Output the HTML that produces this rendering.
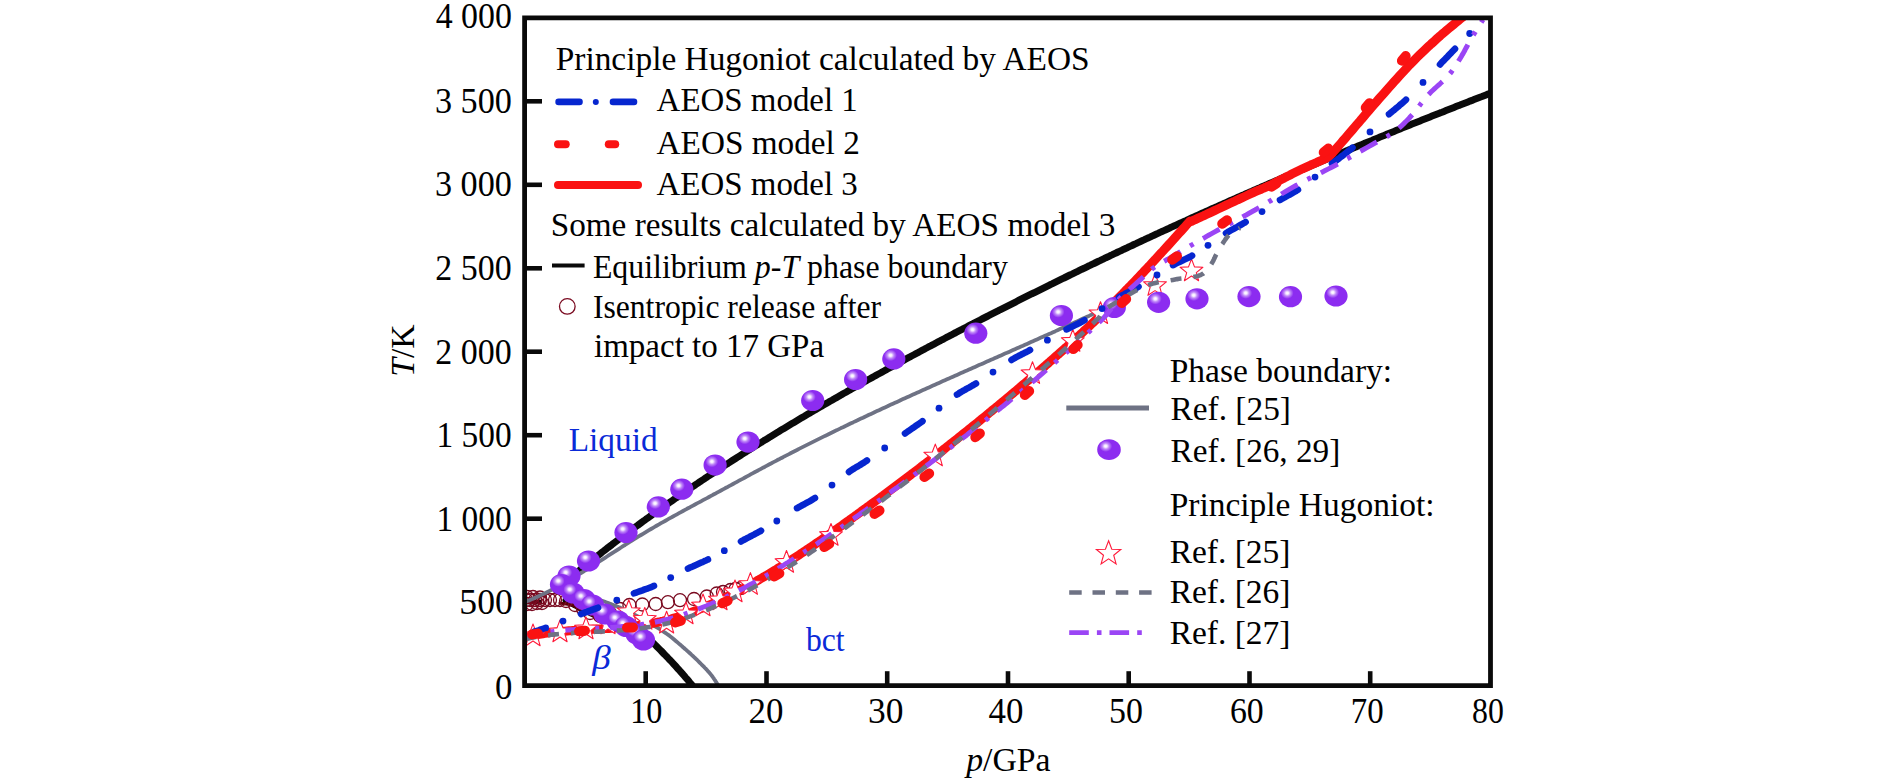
<!DOCTYPE html>
<html><head><meta charset="utf-8"><title>T-p phase diagram</title>
<style>html,body{margin:0;padding:0;background:#fff;}svg{display:block;}</style></head>
<body><svg width="1890" height="781" viewBox="0 0 1890 781">
<rect width="1890" height="781" fill="#fff"/>
<defs>
<radialGradient id="bg" cx="0.36" cy="0.33" r="0.72" fx="0.36" fy="0.33"><stop offset="0" stop-color="#ffffff"/><stop offset="0.08" stop-color="#f6ecff"/><stop offset="0.2" stop-color="#c08af8"/><stop offset="0.38" stop-color="#8c2cf0"/><stop offset="1" stop-color="#8c2cf0"/></radialGradient>
<clipPath id="pc"><rect x="525" y="18" width="965.5" height="667.6"/></clipPath>
</defs>
<g stroke="#0a0a0a" fill="none">
<line x1="645.7" y1="685" x2="645.7" y2="671.2" stroke-width="4.6"/>
<line x1="766.5" y1="685" x2="766.5" y2="671.2" stroke-width="4.6"/>
<line x1="887.2" y1="685" x2="887.2" y2="671.2" stroke-width="4.6"/>
<line x1="1008.0" y1="685" x2="1008.0" y2="671.2" stroke-width="4.6"/>
<line x1="1128.7" y1="685" x2="1128.7" y2="671.2" stroke-width="4.6"/>
<line x1="1249.5" y1="685" x2="1249.5" y2="671.2" stroke-width="4.6"/>
<line x1="1370.2" y1="685" x2="1370.2" y2="671.2" stroke-width="4.6"/>
<line x1="525" y1="602.1" x2="542" y2="602.1" stroke-width="4.6"/>
<line x1="525" y1="518.7" x2="542" y2="518.7" stroke-width="4.6"/>
<line x1="525" y1="435.2" x2="542" y2="435.2" stroke-width="4.6"/>
<line x1="525" y1="351.7" x2="542" y2="351.7" stroke-width="4.6"/>
<line x1="525" y1="268.3" x2="542" y2="268.3" stroke-width="4.6"/>
<line x1="525" y1="184.8" x2="542" y2="184.8" stroke-width="4.6"/>
<line x1="525" y1="101.3" x2="542" y2="101.3" stroke-width="4.6"/>
</g>
<g clip-path="url(#pc)" fill="none" stroke-linecap="round" stroke-linejoin="round">
<path d="M556.0 589.9 L558.0 588.2 L560.0 586.5 L562.0 584.8 L564.0 583.1 L566.0 581.4 L568.0 579.8 L570.0 578.1 L572.0 576.4 L574.0 574.8 L576.0 573.1 L578.0 571.5 L580.0 569.9 L582.0 568.2 L584.0 566.6 L586.0 565.0 L588.0 563.4 L590.0 561.8 L592.0 560.2 L594.0 558.6 L596.0 557.0 L598.0 555.5 L600.0 553.9 L602.0 552.3 L604.0 550.8 L606.0 549.2 L608.0 547.6 L610.0 546.1 L612.0 544.6 L614.0 543.0 L616.0 541.5 L618.0 540.0 L620.0 538.5 L622.0 537.0 L624.0 535.5 L626.0 534.0 L628.0 532.5 L630.0 531.0 L632.0 529.5 L634.0 528.0 L636.0 526.5 L638.0 525.1 L640.0 523.6 L642.0 522.1 L644.0 520.7 L646.0 519.2 L648.0 517.8 L650.0 516.4 L652.0 514.9 L654.0 513.5 L656.0 512.1 L658.0 510.6 L660.0 509.2 L662.0 507.8 L664.0 506.4 L666.0 505.0 L668.0 503.6 L670.0 502.2 L672.0 500.8 L674.0 499.4 L676.0 498.0 L678.0 496.7 L680.0 495.3 L682.0 493.9 L684.0 492.5 L686.0 491.2 L688.0 489.8 L690.0 488.5 L692.0 487.1 L694.0 485.8 L696.0 484.4 L698.0 483.1 L700.0 481.7 L702.0 480.4 L704.0 479.1 L706.0 477.7 L708.0 476.4 L710.0 475.1 L712.0 473.8 L714.0 472.5 L716.0 471.2 L718.0 469.8 L720.0 468.5 L722.0 467.2 L724.0 465.9 L726.0 464.6 L728.0 463.4 L730.0 462.1 L732.0 460.8 L734.0 459.5 L736.0 458.2 L738.0 456.9 L740.0 455.7 L742.0 454.4 L744.0 453.1 L746.0 451.9 L748.0 450.6 L750.0 449.4 L752.0 448.1 L754.0 446.8 L756.0 445.6 L758.0 444.4 L760.0 443.1 L762.0 441.9 L764.0 440.6 L766.0 439.4 L768.0 438.2 L770.0 436.9 L772.0 435.7 L774.0 434.5 L776.0 433.3 L778.0 432.1 L780.0 430.8 L782.0 429.6 L784.0 428.4 L786.0 427.2 L788.0 426.0 L790.0 424.8 L792.0 423.6 L794.0 422.4 L796.0 421.2 L798.0 420.0 L800.0 418.8 L802.0 417.6 L804.0 416.5 L806.0 415.3 L808.0 414.1 L810.0 412.9 L812.0 411.8 L814.0 410.6 L816.0 409.4 L818.0 408.3 L820.0 407.1 L822.0 405.9 L824.0 404.8 L826.0 403.6 L828.0 402.5 L830.0 401.3 L832.0 400.2 L834.0 399.0 L836.0 397.9 L838.0 396.7 L840.0 395.6 L842.0 394.4 L844.0 393.3 L846.0 392.2 L848.0 391.0 L850.0 389.9 L852.0 388.8 L854.0 387.6 L856.0 386.5 L858.0 385.4 L860.0 384.3 L862.0 383.2 L864.0 382.0 L866.0 380.9 L868.0 379.8 L870.0 378.7 L872.0 377.6 L874.0 376.5 L876.0 375.4 L878.0 374.3 L880.0 373.2 L882.0 372.1 L884.0 371.0 L886.0 369.9 L888.0 368.8 L890.0 367.7 L892.0 366.6 L894.0 365.5 L896.0 364.4 L898.0 363.3 L900.0 362.3 L902.0 361.2 L904.0 360.1 L906.0 359.0 L908.0 357.9 L910.0 356.9 L912.0 355.8 L914.0 354.7 L916.0 353.6 L918.0 352.6 L920.0 351.5 L922.0 350.4 L924.0 349.4 L926.0 348.3 L928.0 347.2 L930.0 346.2 L932.0 345.1 L934.0 344.1 L936.0 343.0 L938.0 341.9 L940.0 340.9 L942.0 339.8 L944.0 338.8 L946.0 337.7 L948.0 336.7 L950.0 335.6 L952.0 334.6 L954.0 333.5 L956.0 332.5 L958.0 331.4 L960.0 330.4 L962.0 329.4 L964.0 328.3 L966.0 327.3 L968.0 326.2 L970.0 325.2 L972.0 324.2 L974.0 323.1 L976.0 322.1 L978.0 321.1 L980.0 320.1 L982.0 319.0 L984.0 318.0 L986.0 317.0 L988.0 316.0 L990.0 314.9 L992.0 313.9 L994.0 312.9 L996.0 311.9 L998.0 310.9 L1000.0 309.8 L1002.0 308.8 L1004.0 307.8 L1006.0 306.8 L1008.0 305.8 L1010.0 304.8 L1012.0 303.8 L1014.0 302.8 L1016.0 301.8 L1018.0 300.7 L1020.0 299.7 L1022.0 298.7 L1024.0 297.7 L1026.0 296.7 L1028.0 295.7 L1030.0 294.7 L1032.0 293.7 L1034.0 292.8 L1036.0 291.8 L1038.0 290.8 L1040.0 289.8 L1042.0 288.8 L1044.0 287.8 L1046.0 286.8 L1048.0 285.8 L1050.0 284.8 L1052.0 283.9 L1054.0 282.9 L1056.0 281.9 L1058.0 280.9 L1060.0 279.9 L1062.0 278.9 L1064.0 278.0 L1066.0 277.0 L1068.0 276.0 L1070.0 275.0 L1072.0 274.1 L1074.0 273.1 L1076.0 272.1 L1078.0 271.2 L1080.0 270.2 L1082.0 269.2 L1084.0 268.3 L1086.0 267.3 L1088.0 266.3 L1090.0 265.4 L1092.0 264.4 L1094.0 263.5 L1096.0 262.5 L1098.0 261.5 L1100.0 260.6 L1102.0 259.6 L1104.0 258.7 L1106.0 257.7 L1108.0 256.8 L1110.0 255.8 L1112.0 254.9 L1114.0 253.9 L1116.0 253.0 L1118.0 252.0 L1120.0 251.1 L1122.0 250.2 L1124.0 249.2 L1126.0 248.3 L1128.0 247.3 L1130.0 246.4 L1132.0 245.5 L1134.0 244.5 L1136.0 243.6 L1138.0 242.6 L1140.0 241.7 L1142.0 240.8 L1144.0 239.9 L1146.0 238.9 L1148.0 238.0 L1150.0 237.1 L1152.0 236.1 L1154.0 235.2 L1156.0 234.3 L1158.0 233.4 L1160.0 232.4 L1162.0 231.5 L1164.0 230.6 L1166.0 229.7 L1168.0 228.8 L1170.0 227.8 L1172.0 226.9 L1174.0 226.0 L1176.0 225.1 L1178.0 224.2 L1180.0 223.3 L1182.0 222.4 L1184.0 221.5 L1186.0 220.6 L1188.0 219.6 L1190.0 218.7 L1192.0 217.8 L1194.0 216.9 L1196.0 216.0 L1198.0 215.1 L1200.0 214.2 L1202.0 213.3 L1204.0 212.4 L1206.0 211.5 L1208.0 210.6 L1210.0 209.7 L1212.0 208.8 L1214.0 207.9 L1216.0 207.1 L1218.0 206.2 L1220.0 205.3 L1222.0 204.4 L1224.0 203.5 L1226.0 202.6 L1228.0 201.7 L1230.0 200.8 L1232.0 199.9 L1234.0 199.1 L1236.0 198.2 L1238.0 197.3 L1240.0 196.4 L1242.0 195.5 L1244.0 194.7 L1246.0 193.8 L1248.0 192.9 L1250.0 192.0 L1252.0 191.2 L1254.0 190.3 L1256.0 189.4 L1258.0 188.5 L1260.0 187.7 L1262.0 186.8 L1264.0 185.9 L1266.0 185.1 L1268.0 184.2 L1270.0 183.3 L1272.0 182.5 L1274.0 181.6 L1276.0 180.7 L1278.0 179.9 L1280.0 179.0 L1282.0 178.1 L1284.0 177.3 L1286.0 176.4 L1288.0 175.6 L1290.0 174.7 L1292.0 173.9 L1294.0 173.0 L1296.0 172.1 L1298.0 171.3 L1300.0 170.4 L1302.0 169.6 L1304.0 168.7 L1306.0 167.9 L1308.0 167.0 L1310.0 166.2 L1312.0 165.3 L1314.0 164.5 L1316.0 163.7 L1318.0 162.8 L1320.0 162.0 L1322.0 161.1 L1324.0 160.3 L1326.0 159.4 L1328.0 158.6 L1330.0 157.8 L1332.0 156.9 L1334.0 156.1 L1336.0 155.3 L1338.0 154.4 L1340.0 153.6 L1342.0 152.8 L1344.0 151.9 L1346.0 151.1 L1348.0 150.3 L1350.0 149.4 L1352.0 148.6 L1354.0 147.8 L1356.0 146.9 L1358.0 146.1 L1360.0 145.3 L1362.0 144.5 L1364.0 143.6 L1366.0 142.8 L1368.0 142.0 L1370.0 141.2 L1372.0 140.4 L1374.0 139.5 L1376.0 138.7 L1378.0 137.9 L1380.0 137.1 L1382.0 136.3 L1384.0 135.5 L1386.0 134.6 L1388.0 133.8 L1390.0 133.0 L1392.0 132.2 L1394.0 131.4 L1396.0 130.6 L1398.0 129.8 L1400.0 129.0 L1402.0 128.1 L1404.0 127.3 L1406.0 126.5 L1408.0 125.7 L1410.0 124.9 L1412.0 124.1 L1414.0 123.3 L1416.0 122.5 L1418.0 121.7 L1420.0 120.9 L1422.0 120.1 L1424.0 119.3 L1426.0 118.5 L1428.0 117.7 L1430.0 116.9 L1432.0 116.1 L1434.0 115.3 L1436.0 114.5 L1438.0 113.7 L1440.0 112.9 L1442.0 112.2 L1444.0 111.4 L1446.0 110.6 L1448.0 109.8 L1450.0 109.0 L1452.0 108.2 L1454.0 107.4 L1456.0 106.6 L1458.0 105.8 L1460.0 105.1 L1462.0 104.3 L1464.0 103.5 L1466.0 102.7 L1468.0 101.9 L1470.0 101.1 L1472.0 100.4 L1474.0 99.6 L1476.0 98.8 L1478.0 98.0 L1480.0 97.2 L1482.0 96.5 L1484.0 95.7 L1486.0 94.9 L1488.0 94.1 L1489.0 93.7" stroke="#0a0a0a" stroke-width="7"/>
<path d="M566.0 600.0 L566.8 600.4 L567.8 601.0 L569.1 601.6 L570.4 602.4 L571.9 603.2 L573.4 604.0 L575.1 604.9 L576.7 605.7 L578.4 606.6 L580.0 607.5 L581.5 608.3 L583.0 609.0 L584.4 609.7 L585.8 610.4 L587.1 611.0 L588.5 611.7 L589.8 612.4 L591.2 613.0 L592.6 613.6 L594.0 614.3 L595.4 615.0 L596.9 615.6 L598.4 616.3 L600.0 617.0 L601.7 617.7 L603.4 618.4 L605.2 619.2 L607.0 619.9 L608.9 620.6 L610.8 621.4 L612.7 622.1 L614.6 622.9 L616.5 623.7 L618.4 624.4 L620.2 625.2 L622.0 626.0 L623.8 626.8 L625.6 627.7 L627.4 628.5 L629.2 629.4 L631.0 630.3 L632.8 631.2 L634.5 632.1 L636.1 632.9 L637.8 633.8 L639.3 634.6 L640.7 635.3 L642.0 636.0 L643.2 636.6 L644.2 637.1 L645.1 637.5 L645.9 637.9 L646.6 638.3 L647.2 638.6 L647.9 639.0 L648.6 639.4 L649.3 639.9 L650.1 640.5 L651.0 641.2 L652.0 642.0 L653.1 643.0 L654.4 644.1 L655.7 645.4 L657.0 646.7 L658.4 648.1 L659.9 649.6 L661.3 651.0 L662.7 652.5 L664.1 654.0 L665.5 655.4 L666.8 656.7 L668.0 658.0 L669.1 659.2 L670.2 660.3 L671.3 661.4 L672.3 662.5 L673.3 663.6 L674.2 664.6 L675.2 665.7 L676.1 666.7 L677.1 667.8 L678.0 668.8 L679.0 669.9 L680.0 671.0 L681.0 672.2 L682.1 673.4 L683.3 674.8 L684.4 676.1 L685.6 677.5 L686.8 678.8 L687.9 680.1 L688.9 681.3 L689.8 682.5 L690.7 683.5 L691.4 684.3 L692.0 685.0" stroke="#0a0a0a" stroke-width="7"/>
<path d="M560 603 L572 605 L583 610 L592 615 L600 617.5" stroke="#5a0008" stroke-width="3.2"/>
<circle cx="527.0" cy="604.0" r="6.5" fill="none" stroke="#7a0a20" stroke-width="1.3"/>
<circle cx="532.0" cy="604.0" r="6.5" fill="none" stroke="#7a0a20" stroke-width="1.3"/>
<circle cx="537.0" cy="603.0" r="6.5" fill="none" stroke="#7a0a20" stroke-width="1.3"/>
<circle cx="542.0" cy="603.0" r="6.5" fill="none" stroke="#7a0a20" stroke-width="1.3"/>
<circle cx="527.0" cy="597.0" r="6.5" fill="none" stroke="#7a0a20" stroke-width="1.3"/>
<circle cx="533.0" cy="597.0" r="6.5" fill="none" stroke="#7a0a20" stroke-width="1.3"/>
<circle cx="540.0" cy="597.5" r="6.5" fill="none" stroke="#7a0a20" stroke-width="1.3"/>
<circle cx="526.0" cy="600.0" r="6.5" fill="none" stroke="#7a0a20" stroke-width="1.3"/>
<circle cx="530.0" cy="600.0" r="6.5" fill="none" stroke="#7a0a20" stroke-width="1.3"/>
<circle cx="535.0" cy="600.0" r="6.5" fill="none" stroke="#7a0a20" stroke-width="1.3"/>
<circle cx="540.0" cy="600.0" r="6.5" fill="none" stroke="#7a0a20" stroke-width="1.3"/>
<circle cx="545.0" cy="600.0" r="6.5" fill="none" stroke="#7a0a20" stroke-width="1.3"/>
<circle cx="550.0" cy="600.0" r="6.5" fill="none" stroke="#7a0a20" stroke-width="1.3"/>
<circle cx="555.0" cy="600.0" r="6.5" fill="none" stroke="#7a0a20" stroke-width="1.3"/>
<circle cx="560.0" cy="600.0" r="6.5" fill="none" stroke="#7a0a20" stroke-width="1.3"/>
<circle cx="566.0" cy="601.0" r="6.5" fill="none" stroke="#7a0a20" stroke-width="1.3"/>
<circle cx="575.0" cy="605.0" r="6.5" fill="none" stroke="#7a0a20" stroke-width="1.3"/>
<circle cx="583.0" cy="609.0" r="6.5" fill="none" stroke="#7a0a20" stroke-width="1.3"/>
<circle cx="590.0" cy="613.0" r="6.5" fill="none" stroke="#7a0a20" stroke-width="1.3"/>
<circle cx="600.0" cy="616.0" r="6.5" fill="none" stroke="#7a0a20" stroke-width="1.3"/>
<circle cx="610.0" cy="613.0" r="6.5" fill="none" stroke="#7a0a20" stroke-width="1.3"/>
<circle cx="620.0" cy="609.0" r="6.5" fill="none" stroke="#7a0a20" stroke-width="1.3"/>
<circle cx="629.4" cy="605.0" r="6.5" fill="none" stroke="#7a0a20" stroke-width="1.3"/>
<circle cx="642.3" cy="604.5" r="6.5" fill="none" stroke="#7a0a20" stroke-width="1.3"/>
<circle cx="655.7" cy="604.0" r="6.5" fill="none" stroke="#7a0a20" stroke-width="1.3"/>
<circle cx="667.9" cy="602.2" r="6.5" fill="none" stroke="#7a0a20" stroke-width="1.3"/>
<circle cx="680.0" cy="600.2" r="6.5" fill="none" stroke="#7a0a20" stroke-width="1.3"/>
<circle cx="694.0" cy="599.0" r="6.5" fill="none" stroke="#7a0a20" stroke-width="1.3"/>
<circle cx="706.8" cy="596.5" r="6.5" fill="none" stroke="#7a0a20" stroke-width="1.3"/>
<circle cx="716.7" cy="593.5" r="6.5" fill="none" stroke="#7a0a20" stroke-width="1.3"/>
<circle cx="723.0" cy="592.0" r="6.5" fill="none" stroke="#7a0a20" stroke-width="1.3"/>
<circle cx="730.5" cy="590.0" r="6.5" fill="none" stroke="#7a0a20" stroke-width="1.3"/>
<circle cx="735.5" cy="589.0" r="6.5" fill="none" stroke="#7a0a20" stroke-width="1.3"/>
<circle cx="741.0" cy="588.0" r="6.5" fill="none" stroke="#7a0a20" stroke-width="1.3"/>
<path d="M525.0 601.9 L527.0 601.1 L529.0 600.4 L531.0 599.5 L533.0 598.7 L535.0 597.8 L537.0 596.9 L539.0 596.0 L541.0 595.1 L543.0 594.1 L545.0 593.2 L547.0 592.2 L549.0 591.2 L551.0 590.1 L553.0 589.1 L555.0 588.0 L557.0 587.0 L559.0 585.9 L561.0 584.8 L563.0 583.6 L565.0 582.5 L567.0 581.4 L569.0 580.2 L571.0 579.0 L573.0 577.8 L575.0 576.6 L577.0 575.4 L579.0 574.2 L581.0 573.0 L583.0 571.8 L585.0 570.5 L587.0 569.3 L589.0 568.0 L591.0 566.7 L593.0 565.5 L595.0 564.2 L597.0 562.9 L599.0 561.7 L601.0 560.4 L603.0 559.1 L605.0 557.8 L607.0 556.5 L609.0 555.2 L611.0 553.9 L613.0 552.6 L615.0 551.4 L617.0 550.1 L619.0 548.8 L621.0 547.5 L623.0 546.2 L625.0 545.0 L627.0 543.7 L629.0 542.4 L631.0 541.2 L633.0 539.9 L635.0 538.7 L637.0 537.4 L639.0 536.2 L641.0 535.0 L643.0 533.8 L645.0 532.6 L647.0 531.4 L649.0 530.2 L651.0 529.0 L653.0 527.8 L655.0 526.7 L657.0 525.5 L659.0 524.4 L661.0 523.2 L663.0 522.1 L665.0 521.0 L667.0 519.8 L669.0 518.7 L671.0 517.6 L673.0 516.5 L675.0 515.4 L677.0 514.3 L679.0 513.2 L681.0 512.1 L683.0 511.0 L685.0 509.9 L687.0 508.8 L689.0 507.8 L691.0 506.7 L693.0 505.6 L695.0 504.5 L697.0 503.4 L699.0 502.4 L701.0 501.3 L703.0 500.2 L705.0 499.1 L707.0 498.1 L709.0 497.0 L711.0 495.9 L713.0 494.8 L715.0 493.8 L717.0 492.7 L719.0 491.6 L721.0 490.5 L723.0 489.4 L725.0 488.3 L727.0 487.3 L729.0 486.2 L731.0 485.1 L733.0 484.0 L735.0 482.9 L737.0 481.8 L739.0 480.7 L741.0 479.6 L743.0 478.6 L745.0 477.5 L747.0 476.4 L749.0 475.3 L751.0 474.2 L753.0 473.1 L755.0 472.0 L757.0 471.0 L759.0 469.9 L761.0 468.8 L763.0 467.7 L765.0 466.7 L767.0 465.6 L769.0 464.5 L771.0 463.5 L773.0 462.4 L775.0 461.4 L777.0 460.3 L779.0 459.3 L781.0 458.2 L783.0 457.2 L785.0 456.1 L787.0 455.1 L789.0 454.1 L791.0 453.0 L793.0 452.0 L795.0 451.0 L797.0 450.0 L799.0 448.9 L801.0 447.9 L803.0 446.9 L805.0 445.9 L807.0 444.9 L809.0 443.9 L811.0 442.9 L813.0 441.9 L815.0 440.9 L817.0 439.9 L819.0 438.9 L821.0 437.9 L823.0 436.9 L825.0 435.9 L827.0 435.0 L829.0 434.0 L831.0 433.0 L833.0 432.0 L835.0 431.0 L837.0 430.1 L839.0 429.1 L841.0 428.1 L843.0 427.2 L845.0 426.2 L847.0 425.3 L849.0 424.3 L851.0 423.3 L853.0 422.4 L855.0 421.4 L857.0 420.5 L859.0 419.5 L861.0 418.6 L863.0 417.7 L865.0 416.7 L867.0 415.8 L869.0 414.8 L871.0 413.9 L873.0 413.0 L875.0 412.0 L877.0 411.1 L879.0 410.2 L881.0 409.2 L883.0 408.3 L885.0 407.4 L887.0 406.5 L889.0 405.5 L891.0 404.6 L893.0 403.7 L895.0 402.8 L897.0 401.9 L899.0 401.0 L901.0 400.0 L903.0 399.1 L905.0 398.2 L907.0 397.3 L909.0 396.4 L911.0 395.5 L913.0 394.6 L915.0 393.7 L917.0 392.8 L919.0 391.9 L921.0 391.0 L923.0 390.1 L925.0 389.2 L927.0 388.3 L929.0 387.4 L931.0 386.5 L933.0 385.6 L935.0 384.7 L937.0 383.8 L939.0 382.9 L941.0 382.0 L943.0 381.1 L945.0 380.2 L947.0 379.3 L949.0 378.4 L951.0 377.6 L953.0 376.7 L955.0 375.8 L957.0 374.9 L959.0 374.0 L961.0 373.1 L963.0 372.2 L965.0 371.3 L967.0 370.5 L969.0 369.6 L971.0 368.7 L973.0 367.8 L975.0 366.9 L977.0 366.0 L979.0 365.1 L981.0 364.3 L983.0 363.4 L985.0 362.5 L987.0 361.6 L989.0 360.7 L991.0 359.8 L993.0 359.0 L995.0 358.1 L997.0 357.2 L999.0 356.3 L1001.0 355.4 L1003.0 354.5 L1005.0 353.6 L1007.0 352.8 L1009.0 351.9 L1011.0 351.0 L1013.0 350.1 L1015.0 349.2 L1017.0 348.3 L1019.0 347.4 L1021.0 346.5 L1023.0 345.7 L1025.0 344.8 L1027.0 343.9 L1029.0 343.0 L1031.0 342.1 L1033.0 341.2 L1035.0 340.3 L1037.0 339.4 L1039.0 338.5 L1041.0 337.6 L1043.0 336.7 L1045.0 335.8 L1047.0 334.9 L1049.0 334.0 L1051.0 333.2 L1053.0 332.3 L1055.0 331.4 L1057.0 330.4 L1059.0 329.5 L1061.0 328.6 L1063.0 327.7 L1065.0 326.8 L1067.0 325.9 L1069.0 325.0 L1071.0 324.1 L1073.0 323.2 L1075.0 322.3 L1077.0 321.4 L1079.0 320.5 L1081.0 319.5 L1083.0 318.6 L1085.0 317.7 L1087.0 316.8 L1089.0 315.9 L1091.0 314.9 L1093.0 314.0 L1095.0 313.1 L1097.0 312.2 L1099.0 311.2 L1101.0 310.3 L1103.0 309.4" stroke="#6e7284" stroke-width="3.8"/>
<path d="M588.0 596.0 L588.6 596.2 L589.3 596.4 L590.2 596.7 L591.1 597.0 L592.1 597.4 L593.2 597.7 L594.4 598.1 L595.6 598.5 L596.7 598.9 L597.9 599.3 L599.0 599.6 L600.0 600.0 L601.0 600.4 L602.0 600.7 L603.0 601.1 L604.0 601.4 L605.0 601.8 L606.0 602.2 L607.0 602.6 L608.0 602.9 L609.0 603.3 L610.0 603.7 L611.0 604.1 L612.0 604.5 L613.0 604.9 L613.9 605.2 L614.8 605.6 L615.6 605.9 L616.5 606.2 L617.4 606.6 L618.3 606.9 L619.3 607.3 L620.3 607.8 L621.4 608.3 L622.6 608.9 L624.0 609.5 L625.5 610.2 L627.1 611.0 L628.8 611.9 L630.6 612.8 L632.5 613.8 L634.4 614.8 L636.4 615.8 L638.4 616.8 L640.3 617.9 L642.3 618.9 L644.2 620.0 L646.0 621.0 L647.8 622.0 L649.6 623.1 L651.4 624.1 L653.2 625.2 L655.0 626.3 L656.8 627.3 L658.6 628.4 L660.3 629.5 L662.1 630.6 L663.7 631.8 L665.4 632.9 L667.0 634.0 L668.6 635.1 L670.1 636.3 L671.7 637.5 L673.2 638.7 L674.7 640.0 L676.1 641.2 L677.5 642.4 L678.9 643.6 L680.3 644.8 L681.6 645.9 L682.8 647.0 L684.0 648.0 L685.1 649.0 L686.2 649.9 L687.2 650.8 L688.1 651.6 L689.1 652.5 L689.9 653.2 L690.8 654.0 L691.6 654.8 L692.5 655.6 L693.3 656.4 L694.1 657.2 L695.0 658.0 L695.9 658.8 L696.8 659.7 L697.6 660.5 L698.5 661.4 L699.4 662.3 L700.2 663.1 L701.1 664.0 L701.9 664.8 L702.7 665.6 L703.5 666.4 L704.3 667.2 L705.0 668.0 L705.7 668.7 L706.4 669.4 L707.0 670.1 L707.6 670.8 L708.2 671.4 L708.8 672.1 L709.3 672.7 L709.9 673.3 L710.4 674.0 L710.9 674.6 L711.5 675.3 L712.0 676.0 L712.6 676.7 L713.1 677.5 L713.7 678.4 L714.3 679.3 L714.9 680.1 L715.4 681.0 L716.0 681.8 L716.5 682.6 L716.9 683.4 L717.4 684.0 L717.7 684.6 L718.0 685.0" stroke="#6e7284" stroke-width="3.8"/>
<path d="M525.0 637.1 L527.0 636.7 L529.0 636.2 L531.0 635.8 L533.0 635.4 L535.0 635.1 L537.0 634.7 L539.0 634.4 L541.0 634.0 L543.0 633.7 L545.0 633.4 L547.0 633.1 L549.0 632.9 L551.0 632.6 L553.0 632.4 L555.0 632.1 L557.0 631.9 L559.0 631.7 L561.0 631.5 L563.0 631.3 L565.0 631.2 L567.0 631.0 L569.0 630.8 L571.0 630.7 L573.0 630.5 L575.0 630.4 L577.0 630.3 L579.0 630.1 L581.0 630.0 L583.0 629.9 L585.0 629.8 L587.0 629.7 L589.0 629.5 L591.0 629.4 L593.0 629.3 L595.0 629.2 L597.0 629.1 L599.0 629.0 L601.0 628.9 L603.0 628.8 L605.0 628.6 L607.0 628.5 L609.0 628.4 L611.0 628.3 L613.0 628.1 L615.0 628.0 L617.0 627.8 L619.0 627.7 L621.0 627.5 L623.0 627.3 L625.0 627.1 L627.0 626.9 L629.0 626.7 L631.0 626.5 L633.0 626.3 L635.0 626.1 L637.0 625.8 L639.0 625.5 L641.0 625.3 L643.0 625.0 L645.0 624.7 L647.0 624.3 L649.0 624.0 L651.0 623.6 L653.0 623.2 L655.0 622.9 L657.0 622.4 L659.0 622.0 L661.0 621.5 L663.0 621.1 L665.0 620.6 L667.0 620.1 L669.0 619.5 L671.0 619.0 L673.0 618.4 L675.0 617.8 L677.0 617.2 L679.0 616.6 L681.0 615.9 L683.0 615.3 L685.0 614.6 L687.0 613.9 L689.0 613.2 L691.0 612.5 L693.0 611.7 L695.0 610.9 L697.0 610.2 L699.0 609.4 L701.0 608.6 L703.0 607.7 L705.0 606.9 L707.0 606.1 L709.0 605.2 L711.0 604.3 L713.0 603.4 L715.0 602.5 L717.0 601.6 L719.0 600.7 L721.0 599.7 L723.0 598.8 L725.0 597.8 L727.0 596.8 L729.0 595.8 L731.0 594.8 L733.0 593.8 L735.0 592.8 L737.0 591.8 L739.0 590.7 L741.0 589.6 L743.0 588.6 L745.0 587.5 L747.0 586.4 L749.0 585.3 L751.0 584.2 L753.0 583.1 L755.0 582.0 L757.0 580.8 L759.0 579.7 L761.0 578.5 L763.0 577.3 L765.0 576.2 L767.0 575.0 L769.0 573.8 L771.0 572.6 L773.0 571.4 L775.0 570.2 L777.0 568.9 L779.0 567.7 L781.0 566.4 L783.0 565.2 L785.0 563.9 L787.0 562.7 L789.0 561.4 L791.0 560.1 L793.0 558.8 L795.0 557.5 L797.0 556.2 L799.0 554.9 L801.0 553.6 L803.0 552.3 L805.0 550.9 L807.0 549.6 L809.0 548.3 L811.0 546.9 L813.0 545.6 L815.0 544.2 L817.0 542.8 L819.0 541.5 L821.0 540.1 L823.0 538.7 L825.0 537.3 L827.0 535.9 L829.0 534.5 L831.0 533.1 L833.0 531.7 L835.0 530.3 L837.0 528.9 L839.0 527.5 L841.0 526.1 L843.0 524.7 L845.0 523.2 L847.0 521.8 L849.0 520.4 L851.0 518.9 L853.0 517.5 L855.0 516.0 L857.0 514.6 L859.0 513.1 L861.0 511.7 L863.0 510.2 L865.0 508.8 L867.0 507.3 L869.0 505.9 L871.0 504.4 L873.0 502.9 L875.0 501.5 L877.0 500.0 L879.0 498.5 L881.0 497.0 L883.0 495.6 L885.0 494.1 L887.0 492.6 L889.0 491.1 L891.0 489.6 L893.0 488.1 L895.0 486.6 L897.0 485.1 L899.0 483.6 L901.0 482.1 L903.0 480.6 L905.0 479.1 L907.0 477.6 L909.0 476.1 L911.0 474.6 L913.0 473.0 L915.0 471.5 L917.0 470.0 L919.0 468.5 L921.0 466.9 L923.0 465.4 L925.0 463.9 L927.0 462.3 L929.0 460.8 L931.0 459.2 L933.0 457.7 L935.0 456.1 L937.0 454.6 L939.0 453.0 L941.0 451.5 L943.0 449.9 L945.0 448.4 L947.0 446.8 L949.0 445.2 L951.0 443.6 L953.0 442.1 L955.0 440.5 L957.0 438.9 L959.0 437.3 L961.0 435.7 L963.0 434.1 L965.0 432.5 L967.0 430.9 L969.0 429.3 L971.0 427.7 L973.0 426.1 L975.0 424.5 L977.0 422.9 L979.0 421.3 L981.0 419.6 L983.0 418.0 L985.0 416.4 L987.0 414.8 L989.0 413.1 L991.0 411.5 L993.0 409.8 L995.0 408.2 L997.0 406.6 L999.0 404.9 L1001.0 403.2 L1003.0 401.6 L1005.0 399.9 L1007.0 398.3 L1009.0 396.6 L1011.0 394.9 L1013.0 393.2 L1015.0 391.6 L1017.0 389.9 L1019.0 388.2 L1021.0 386.5 L1023.0 384.8 L1025.0 383.1 L1027.0 381.4 L1029.0 379.7 L1031.0 378.0 L1033.0 376.3 L1035.0 374.6 L1037.0 372.9 L1039.0 371.1 L1041.0 369.4 L1043.0 367.7 L1045.0 366.0 L1047.0 364.2 L1049.0 362.5 L1051.0 360.7 L1053.0 359.0 L1055.0 357.2 L1057.0 355.4 L1059.0 353.7 L1061.0 351.9 L1063.0 350.1 L1065.0 348.3 L1067.0 346.6 L1069.0 344.8 L1071.0 343.0 L1073.0 341.1 L1075.0 339.3 L1077.0 337.5 L1079.0 335.7 L1081.0 333.8 L1083.0 332.0 L1085.0 330.1 L1087.0 328.3 L1089.0 326.4 L1091.0 324.5 L1093.0 322.7 L1095.0 320.8 L1097.0 318.9 L1099.0 317.0 L1101.0 315.0 L1103.0 313.1 L1105.0 311.2 L1107.0 309.2 L1109.0 307.3 L1111.0 305.3 L1113.0 303.4 L1115.0 301.4 L1117.0 299.4 L1119.0 297.4 L1121.0 295.4 L1123.0 293.4 L1125.0 291.3 L1127.0 289.3 L1129.0 287.2 L1131.0 285.2 L1133.0 283.1 L1135.0 281.0 L1137.0 278.9 L1139.0 276.8 L1141.0 274.7 L1143.0 272.6 L1145.0 270.4 L1147.0 268.3 L1149.0 266.2 L1151.0 264.0 L1153.0 261.8 L1155.0 259.7 L1157.0 257.5 L1159.0 255.3 L1161.0 253.1 L1163.0 251.0 L1165.0 248.8 L1167.0 246.6 L1169.0 244.4 L1171.0 242.2 L1173.0 240.0 L1175.0 237.7 L1177.0 235.5 L1179.0 233.3 L1181.0 231.1 L1183.0 228.9 L1185.0 226.7 L1187.0 224.4 L1189.0 222.2 L1190.0 221.1 L1190.8 221.6 L1191.8 221.2 L1192.8 220.7 L1193.9 220.2 L1195.2 219.6 L1196.7 218.9 L1198.2 218.2 L1200.0 217.4 L1201.9 216.5 L1203.9 215.6 L1206.2 214.5 L1208.6 213.4 L1211.4 212.1 L1214.5 210.6 L1218.0 209.0 L1221.8 207.2 L1225.7 205.4 L1229.7 203.5 L1233.7 201.7 L1237.6 199.8 L1241.3 198.1 L1244.8 196.5 L1248.0 195.0 L1250.8 193.7 L1253.2 192.6 L1255.2 191.7 L1257.0 190.9 L1258.5 190.3 L1259.9 189.7 L1261.2 189.2 L1262.4 188.6 L1263.7 188.1 L1265.0 187.5 L1266.4 186.9 L1268.1 186.1 L1270.0 185.2 L1272.1 184.2 L1274.4 183.0 L1276.8 181.8 L1279.2 180.5 L1281.8 179.2 L1284.4 177.9 L1287.0 176.5 L1289.7 175.2 L1292.3 173.8 L1294.9 172.5 L1297.5 171.2 L1300.0 170.0 L1302.5 168.8 L1305.2 167.6 L1308.0 166.3 L1310.8 165.0 L1313.6 163.8 L1316.4 162.6 L1319.0 161.4 L1321.5 160.3 L1323.8 159.3 L1325.9 158.4 L1327.6 157.6 L1329.0 157.0 L1330.1 155.7 L1331.5 154.1 L1333.0 152.3 L1334.8 150.3 L1336.8 148.0 L1338.8 145.6 L1341.0 143.1 L1343.2 140.5 L1345.5 137.9 L1347.8 135.2 L1350.1 132.6 L1352.3 130.0 L1354.5 127.4 L1356.8 124.7 L1359.2 122.0 L1361.5 119.2 L1364.0 116.3 L1366.4 113.4 L1368.9 110.5 L1371.4 107.6 L1374.0 104.6 L1376.5 101.7 L1379.0 98.8 L1381.5 96.0 L1384.0 93.2 L1386.6 90.3 L1389.1 87.4 L1391.7 84.5 L1394.3 81.6 L1396.9 78.7 L1399.5 75.8 L1402.1 73.0 L1404.7 70.2 L1407.2 67.5 L1409.7 64.8 L1412.2 62.3 L1414.6 59.8 L1417.0 57.4 L1419.4 55.1 L1421.8 52.8 L1424.2 50.5 L1426.5 48.3 L1428.8 46.1 L1431.1 44.0 L1433.4 42.0 L1435.6 39.9 L1437.8 37.9 L1440.0 36.0 L1442.2 34.0 L1444.5 32.1 L1446.8 30.1 L1449.2 28.1 L1451.5 26.2 L1453.7 24.4 L1455.9 22.6 L1457.9 21.0 L1459.8 19.4 L1461.4 18.1 L1462.9 16.9 L1464.0 16.0" stroke="#fa1212" stroke-width="9"/>
<path d="M533.0 624.0 L536.0 631.9 L544.4 632.3 L537.8 637.6 L540.1 645.7 L533.0 641.0 L525.9 645.7 L528.2 637.6 L521.6 632.3 L530.0 631.9Z" fill="#fff" stroke="#ff1a3a" stroke-width="1.1"/>
<path d="M560.0 620.0 L563.0 627.9 L571.4 628.3 L564.8 633.6 L567.1 641.7 L560.0 637.0 L552.9 641.7 L555.2 633.6 L548.6 628.3 L557.0 627.9Z" fill="#fff" stroke="#ff1a3a" stroke-width="1.1"/>
<path d="M586.0 617.0 L589.0 624.9 L597.4 625.3 L590.8 630.6 L593.1 638.7 L586.0 634.0 L578.9 638.7 L581.2 630.6 L574.6 625.3 L583.0 624.9Z" fill="#fff" stroke="#ff1a3a" stroke-width="1.1"/>
<path d="M608.0 612.0 L611.0 619.9 L619.4 620.3 L612.8 625.6 L615.1 633.7 L608.0 629.0 L600.9 633.7 L603.2 625.6 L596.6 620.3 L605.0 619.9Z" fill="#fff" stroke="#ff1a3a" stroke-width="1.1"/>
<path d="M628.8 599.8 L631.8 607.7 L640.2 608.1 L633.6 613.4 L635.9 621.5 L628.8 616.8 L621.7 621.5 L624.0 613.4 L617.4 608.1 L625.8 607.7Z" fill="#fff" stroke="#ff1a3a" stroke-width="1.1"/>
<path d="M644.8 607.4 L647.8 615.3 L656.2 615.7 L649.6 621.0 L651.9 629.1 L644.8 624.4 L637.7 629.1 L640.0 621.0 L633.4 615.7 L641.8 615.3Z" fill="#fff" stroke="#ff1a3a" stroke-width="1.1"/>
<path d="M666.6 611.3 L669.6 619.2 L678.0 619.6 L671.4 624.9 L673.7 633.0 L666.6 628.3 L659.5 633.0 L661.8 624.9 L655.2 619.6 L663.6 619.2Z" fill="#fff" stroke="#ff1a3a" stroke-width="1.1"/>
<path d="M686.0 602.0 L689.0 609.9 L697.4 610.3 L690.8 615.6 L693.1 623.7 L686.0 619.0 L678.9 623.7 L681.2 615.6 L674.6 610.3 L683.0 609.9Z" fill="#fff" stroke="#ff1a3a" stroke-width="1.1"/>
<path d="M703.0 594.0 L706.0 601.9 L714.4 602.3 L707.8 607.6 L710.1 615.7 L703.0 611.0 L695.9 615.7 L698.2 607.6 L691.6 602.3 L700.0 601.9Z" fill="#fff" stroke="#ff1a3a" stroke-width="1.1"/>
<path d="M720.0 588.0 L723.0 595.9 L731.4 596.3 L724.8 601.6 L727.1 609.7 L720.0 605.0 L712.9 609.7 L715.2 601.6 L708.6 596.3 L717.0 595.9Z" fill="#fff" stroke="#ff1a3a" stroke-width="1.1"/>
<path d="M735.0 580.0 L738.0 587.9 L746.4 588.3 L739.8 593.6 L742.1 601.7 L735.0 597.0 L727.9 601.7 L730.2 593.6 L723.6 588.3 L732.0 587.9Z" fill="#fff" stroke="#ff1a3a" stroke-width="1.1"/>
<path d="M750.4 572.6 L753.4 580.5 L761.8 580.9 L755.2 586.2 L757.5 594.3 L750.4 589.6 L743.3 594.3 L745.6 586.2 L739.0 580.9 L747.4 580.5Z" fill="#fff" stroke="#ff1a3a" stroke-width="1.1"/>
<path d="M786.5 550.5 L789.5 558.4 L797.9 558.8 L791.3 564.1 L793.6 572.2 L786.5 567.5 L779.4 572.2 L781.7 564.1 L775.1 558.8 L783.5 558.4Z" fill="#fff" stroke="#ff1a3a" stroke-width="1.1"/>
<path d="M831.0 523.5 L834.0 531.4 L842.4 531.8 L835.8 537.1 L838.1 545.2 L831.0 540.5 L823.9 545.2 L826.2 537.1 L819.6 531.8 L828.0 531.4Z" fill="#fff" stroke="#ff1a3a" stroke-width="1.1"/>
<path d="M935.3 444.1 L938.3 452.0 L946.7 452.4 L940.1 457.7 L942.4 465.8 L935.3 461.1 L928.2 465.8 L930.5 457.7 L923.9 452.4 L932.3 452.0Z" fill="#fff" stroke="#ff1a3a" stroke-width="1.1"/>
<path d="M1032.5 361.7 L1035.5 369.6 L1043.9 370.0 L1037.3 375.3 L1039.6 383.4 L1032.5 378.7 L1025.4 383.4 L1027.7 375.3 L1021.1 370.0 L1029.5 369.6Z" fill="#fff" stroke="#ff1a3a" stroke-width="1.1"/>
<path d="M1072.8 329.5 L1075.8 337.4 L1084.2 337.8 L1077.6 343.1 L1079.9 351.2 L1072.8 346.5 L1065.7 351.2 L1068.0 343.1 L1061.4 337.8 L1069.8 337.4Z" fill="#fff" stroke="#ff1a3a" stroke-width="1.1"/>
<path d="M1100.5 301.8 L1103.5 309.7 L1111.9 310.1 L1105.3 315.4 L1107.6 323.5 L1100.5 318.8 L1093.4 323.5 L1095.7 315.4 L1089.1 310.1 L1097.5 309.7Z" fill="#fff" stroke="#ff1a3a" stroke-width="1.1"/>
<path d="M1155.0 273.6 L1158.0 281.5 L1166.4 281.9 L1159.8 287.2 L1162.1 295.3 L1155.0 290.6 L1147.9 295.3 L1150.2 287.2 L1143.6 281.9 L1152.0 281.5Z" fill="#fff" stroke="#ff1a3a" stroke-width="1.1"/>
<path d="M1191.5 259.0 L1194.5 266.9 L1202.9 267.3 L1196.3 272.6 L1198.6 280.7 L1191.5 276.0 L1184.4 280.7 L1186.7 272.6 L1180.1 267.3 L1188.5 266.9Z" fill="#fff" stroke="#ff1a3a" stroke-width="1.1"/>
<ellipse cx="588.5" cy="561.0" rx="11.6" ry="10.6" fill="url(#bg)"/>
<ellipse cx="626.0" cy="532.5" rx="11.6" ry="10.6" fill="url(#bg)"/>
<ellipse cx="658.3" cy="506.9" rx="11.6" ry="10.6" fill="url(#bg)"/>
<ellipse cx="681.8" cy="489.2" rx="11.6" ry="10.6" fill="url(#bg)"/>
<ellipse cx="715.1" cy="465.1" rx="11.6" ry="10.6" fill="url(#bg)"/>
<ellipse cx="748.0" cy="442.1" rx="11.6" ry="10.6" fill="url(#bg)"/>
<ellipse cx="812.7" cy="400.5" rx="11.6" ry="10.6" fill="url(#bg)"/>
<ellipse cx="855.6" cy="379.5" rx="11.6" ry="10.6" fill="url(#bg)"/>
<ellipse cx="893.8" cy="358.9" rx="11.6" ry="10.6" fill="url(#bg)"/>
<ellipse cx="975.8" cy="333.2" rx="11.6" ry="10.6" fill="url(#bg)"/>
<ellipse cx="1061.4" cy="315.5" rx="11.6" ry="10.6" fill="url(#bg)"/>
<ellipse cx="1114.3" cy="307.5" rx="11.6" ry="10.6" fill="url(#bg)"/>
<ellipse cx="1158.6" cy="302.3" rx="11.6" ry="10.6" fill="url(#bg)"/>
<ellipse cx="1197.0" cy="298.8" rx="11.6" ry="10.6" fill="url(#bg)"/>
<ellipse cx="1249.0" cy="296.6" rx="11.6" ry="10.6" fill="url(#bg)"/>
<ellipse cx="1290.5" cy="296.7" rx="11.6" ry="10.6" fill="url(#bg)"/>
<ellipse cx="1336.0" cy="296.0" rx="11.6" ry="10.6" fill="url(#bg)"/>
<ellipse cx="569.0" cy="576.0" rx="11.6" ry="10.6" fill="url(#bg)"/>
<ellipse cx="561.5" cy="584.5" rx="11.6" ry="10.6" fill="url(#bg)"/>
<ellipse cx="573.0" cy="593.0" rx="11.6" ry="10.6" fill="url(#bg)"/>
<ellipse cx="584.0" cy="599.5" rx="11.6" ry="10.6" fill="url(#bg)"/>
<ellipse cx="592.5" cy="605.0" rx="11.6" ry="10.6" fill="url(#bg)"/>
<ellipse cx="605.0" cy="614.0" rx="11.6" ry="10.6" fill="url(#bg)"/>
<ellipse cx="618.0" cy="621.0" rx="11.6" ry="10.6" fill="url(#bg)"/>
<ellipse cx="626.0" cy="626.5" rx="11.6" ry="10.6" fill="url(#bg)"/>
<ellipse cx="637.0" cy="634.0" rx="11.6" ry="10.6" fill="url(#bg)"/>
<ellipse cx="643.5" cy="640.0" rx="11.6" ry="10.6" fill="url(#bg)"/>
<path d="M534.6 631.5 L535.2 631.3 L536.9 630.8 L538.6 630.3 L540.3 629.7 L542.1 629.1 L543.8 628.5 L545.6 627.9 L545.7 627.9" stroke="#0626cf" stroke-width="6.6"/>
<path d="M581.0 613.9 L581.1 613.8 L582.6 613.3 L584.0 612.8 L585.4 612.3 L586.8 611.8 L588.1 611.3 L589.4 610.8 L590.8 610.4 L592.1 609.9 L593.5 609.4 L594.9 608.9 L596.3 608.4 L597.8 607.8 L598.0 607.7" stroke="#0626cf" stroke-width="6.6"/>
<path d="M634.0 593.4 L634.4 593.2 L636.1 592.6 L637.7 592.0 L639.4 591.4 L641.0 590.8 L642.5 590.3 L644.1 589.7 L645.7 589.1 L647.3 588.6 L648.9 588.0 L650.5 587.4 L652.1 586.7 L653.7 586.0 L654.0 585.9" stroke="#0626cf" stroke-width="6.6"/>
<path d="M688.0 568.6 L688.3 568.4 L690.0 567.6 L691.6 566.9 L693.2 566.2 L694.9 565.4 L696.5 564.7 L698.1 564.0 L699.7 563.3 L701.3 562.6 L702.9 561.9 L704.5 561.1 L706.1 560.4 L707.7 559.6 L708.0 559.5" stroke="#0626cf" stroke-width="6.6"/>
<path d="M741.0 541.4 L741.3 541.2 L742.9 540.4 L744.5 539.5 L746.1 538.7 L747.6 537.9 L749.2 537.1 L750.8 536.2 L752.4 535.4 L754.0 534.6 L755.6 533.7 L757.2 532.8 L758.9 531.9 L760.6 531.0 L761.0 530.7" stroke="#0626cf" stroke-width="6.6"/>
<path d="M797.0 508.2 L797.3 508.1 L798.8 507.2 L800.3 506.3 L801.8 505.5 L803.3 504.7 L804.7 504.0 L806.1 503.2 L807.5 502.4 L809.0 501.6 L810.4 500.8 L811.9 499.9 L813.3 499.0 L814.8 498.1 L815.0 498.0" stroke="#0626cf" stroke-width="6.6"/>
<path d="M849.0 471.9 L849.1 471.8 L850.6 470.8 L852.1 469.8 L853.5 468.9 L854.9 468.0 L856.3 467.2 L857.8 466.3 L859.2 465.5 L860.6 464.6 L862.0 463.7 L863.5 462.8 L865.1 461.8 L866.6 460.8 L867.0 460.5" stroke="#0626cf" stroke-width="6.6"/>
<path d="M905.0 433.4 L905.3 433.2 L906.9 432.1 L908.4 431.1 L909.8 430.1 L911.2 429.1 L912.6 428.1 L914.0 427.2 L915.3 426.3 L916.7 425.3 L918.1 424.4 L919.5 423.4 L920.9 422.4 L922.4 421.3 L922.5 421.2" stroke="#0626cf" stroke-width="6.6"/>
<path d="M957.0 394.6 L957.3 394.4 L958.8 393.4 L960.4 392.4 L961.9 391.5 L963.4 390.6 L964.9 389.8 L966.4 388.9 L967.9 388.1 L969.4 387.3 L971.0 386.4 L972.5 385.5 L974.1 384.6 L975.7 383.7 L976.0 383.5" stroke="#0626cf" stroke-width="6.6"/>
<path d="M1011.5 359.9 L1011.8 359.7 L1013.3 358.9 L1014.8 358.0 L1016.3 357.2 L1017.8 356.4 L1019.2 355.6 L1020.7 354.9 L1022.1 354.1 L1023.6 353.4 L1025.1 352.6 L1026.6 351.9 L1028.1 351.1 L1029.7 350.2 L1030.0 350.0" stroke="#0626cf" stroke-width="6.6"/>
<path d="M1066.5 329.4 L1066.8 329.3 L1068.3 328.5 L1069.9 327.7 L1071.3 327.0 L1072.8 326.3 L1074.2 325.6 L1075.6 324.9 L1077.0 324.2 L1078.5 323.5 L1079.9 322.8 L1081.3 322.0 L1082.8 321.2 L1084.3 320.4 L1084.5 320.3" stroke="#0626cf" stroke-width="6.6"/>
<path d="M1119.0 297.2 L1119.3 297.0 L1120.9 296.1 L1122.5 295.2 L1124.1 294.4 L1125.7 293.5 L1127.2 292.7 L1128.8 291.9 L1130.3 291.1 L1131.8 290.3 L1133.4 289.5 L1135.0 288.7 L1136.6 287.8 L1138.2 286.9 L1138.5 286.7" stroke="#0626cf" stroke-width="6.6"/>
<path d="M1173.0 265.1 L1173.3 265.0 L1174.9 264.2 L1176.4 263.4 L1178.0 262.6 L1179.5 261.9 L1181.0 261.2 L1182.5 260.5 L1184.0 259.7 L1185.6 259.0 L1187.1 258.3 L1188.6 257.5 L1190.2 256.7 L1191.8 255.9 L1192.0 255.7" stroke="#0626cf" stroke-width="6.6"/>
<path d="M1226.0 233.2 L1226.3 233.0 L1227.9 232.0 L1229.5 231.1 L1231.1 230.2 L1232.7 229.3 L1234.2 228.5 L1235.8 227.6 L1237.3 226.8 L1238.9 225.9 L1240.5 225.0 L1242.1 224.1 L1243.7 223.2 L1245.3 222.3 L1245.6 222.1" stroke="#0626cf" stroke-width="6.6"/>
<path d="M1280.0 200.0 L1280.2 199.9 L1281.7 199.0 L1283.2 198.1 L1284.7 197.3 L1286.1 196.5 L1287.6 195.7 L1289.0 194.9 L1290.5 194.2 L1291.9 193.4 L1293.4 192.5 L1294.8 191.7 L1296.3 190.8 L1297.8 189.8 L1298.0 189.7" stroke="#0626cf" stroke-width="6.6"/>
<path d="M1332.0 163.7 L1332.4 163.4 L1334.0 162.2 L1335.6 160.9 L1337.3 159.7 L1338.9 158.5 L1340.5 157.2 L1342.1 156.0 L1343.7 154.8 L1345.3 153.5 L1347.0 152.2 L1348.6 150.9 L1350.3 149.6 L1352.0 148.2 L1352.5 147.7" stroke="#0626cf" stroke-width="6.6"/>
<path d="M1389.0 114.2 L1389.2 114.1 L1390.7 112.8 L1392.2 111.5 L1393.6 110.4 L1395.0 109.2 L1396.3 108.1 L1397.7 107.0 L1399.0 105.9 L1400.3 104.7 L1401.7 103.6 L1403.1 102.4 L1404.5 101.1 L1405.9 99.8 L1406.0 99.7" stroke="#0626cf" stroke-width="6.6"/>
<path d="M1440.0 64.4 L1441.3 63.0 L1442.6 61.6 L1443.9 60.3 L1445.2 59.0 L1446.5 57.7 L1447.7 56.4 L1448.9 55.1 L1450.1 53.9 L1451.4 52.6 L1452.6 51.3 L1453.9 49.9 L1455.0 48.8" stroke="#0626cf" stroke-width="6.6"/>
<circle cx="563.0" cy="621.1" r="3.4" fill="#0626cf" stroke="none"/>
<circle cx="616.8" cy="600.2" r="3.4" fill="#0626cf" stroke="none"/>
<circle cx="670.7" cy="577.6" r="3.4" fill="#0626cf" stroke="none"/>
<circle cx="724.3" cy="550.7" r="3.4" fill="#0626cf" stroke="none"/>
<circle cx="776.8" cy="521.0" r="3.4" fill="#0626cf" stroke="none"/>
<circle cx="832.0" cy="485.1" r="3.4" fill="#0626cf" stroke="none"/>
<circle cx="884.7" cy="448.0" r="3.4" fill="#0626cf" stroke="none"/>
<circle cx="939.0" cy="408.2" r="3.4" fill="#0626cf" stroke="none"/>
<circle cx="993.0" cy="372.1" r="3.4" fill="#0626cf" stroke="none"/>
<circle cx="1047.4" cy="340.2" r="3.4" fill="#0626cf" stroke="none"/>
<circle cx="1102.0" cy="308.6" r="3.4" fill="#0626cf" stroke="none"/>
<circle cx="1157.0" cy="275.0" r="3.4" fill="#0626cf" stroke="none"/>
<circle cx="1208.0" cy="245.3" r="3.4" fill="#0626cf" stroke="none"/>
<circle cx="1262.0" cy="211.6" r="3.4" fill="#0626cf" stroke="none"/>
<circle cx="1315.0" cy="177.1" r="3.4" fill="#0626cf" stroke="none"/>
<circle cx="1370.0" cy="131.9" r="3.4" fill="#0626cf" stroke="none"/>
<circle cx="1423.0" cy="82.4" r="3.4" fill="#0626cf" stroke="none"/>
<circle cx="1469.7" cy="33.5" r="3.4" fill="#0626cf" stroke="none"/>
<path d="M526.8 635.7 L528.8 635.3 L530.8 634.9 L532.8 634.5 L534.8 634.1 L536.8 633.7 L538.8 633.4 L540.8 633.1 L542.9 632.8 L544.9 632.5 L546.9 632.2 L548.9 631.9 L550.9 631.7 L552.9 631.5 L554.9 631.2 L556.9 631.0 L558.9 630.8 L560.9 630.6 L562.9 630.5 L564.9 630.3 L566.9 630.1 L568.9 630.0 L570.9 629.8 L572.9 629.7 L574.9 629.5 L576.9 629.4 L578.9 629.3 L580.9 629.2 L583.0 629.1 L585.0 629.0 L587.0 628.8 L589.0 628.7 L591.0 628.6 L593.0 628.5 L595.0 628.4 L597.0 628.3 L599.0 628.2 L601.0 628.1 L603.0 628.0 L605.0 627.9 L607.0 627.7 L609.0 627.6 L610.9 627.5 L612.9 627.4 L614.9 627.2 L616.9 627.1 L618.9 626.9 L620.9 626.8 L622.9 626.6 L624.9 626.4 L626.9 626.2 L628.9 626.0 L630.9 625.8 L632.9 625.6 L634.9 625.4 L636.9 625.1 L638.9 624.9 L640.9 624.6 L642.9 624.3 L644.9 624.0 L646.9 623.7 L648.9 623.3 L650.9 623.0 L652.9 622.6 L654.9 622.2 L656.9 621.8 L658.9 621.4 L660.9 621.0 L662.9 620.5 L664.9 620.0 L666.8 619.5 L668.8 619.0 L670.8 618.4 L672.8 617.9 L674.8 617.3 L676.8 616.7 L678.8 616.0 L680.8 615.4 L682.8 614.8 L684.8 614.1 L686.8 613.4 L688.8 612.7 L690.8 612.0 L692.8 611.2 L694.8 610.5 L696.8 609.7 L698.8 608.9 L700.8 608.1 L702.8 607.3 L704.8 606.5 L706.8 605.7 L708.8 604.8 L710.8 604.0 L712.8 603.1 L714.9 602.2 L716.9 601.3 L718.9 600.4 L720.9 599.5 L722.9 598.5 L724.9 597.6 L726.9 596.6 L728.9 595.6 L730.9 594.7 L732.9 593.7 L734.9 592.7 L736.9 591.6 L738.9 590.6 L741.0 589.6 L743.0 588.5 L745.0 587.5 L747.0 586.4 L749.0 585.3 L751.0 584.2 L753.0 583.1 L755.0 582.0 L757.0 580.9 L759.0 579.7 L761.1 578.6 L763.1 577.5 L765.1 576.3 L767.1 575.1 L769.1 574.0 L771.1 572.8 L773.1 571.6 L775.1 570.4 L777.1 569.2 L779.2 567.9 L781.2 566.7 L783.2 565.5 L785.2 564.2 L787.2 563.0 L789.2 561.7 L791.2 560.5 L793.2 559.2 L795.2 557.9 L797.3 556.6 L799.3 555.3 L801.3 554.0 L803.3 552.7 L805.3 551.4 L807.3 550.1 L809.4 548.8 L811.4 547.5 L813.4 546.1 L815.4 544.8 L817.4 543.5 L819.4 542.1 L821.5 540.8 L823.5 539.4 L825.5 538.0 L827.5 536.7 L829.5 535.3 L831.6 533.9 L833.6 532.5 L835.6 531.2 L837.6 529.8 L839.6 528.4 L841.6 527.0 L843.7 525.6 L845.7 524.2 L847.7 522.8 L849.7 521.4 L851.7 519.9 L853.8 518.5 L855.8 517.1 L857.8 515.7 L859.8 514.3 L861.8 512.8 L863.9 511.4 L865.9 510.0 L867.9 508.5 L869.9 507.1 L871.9 505.7 L873.9 504.2 L876.0 502.8 L878.0 501.3 L880.0 499.9 L882.0 498.4 L884.0 497.0 L886.1 495.5 L888.1 494.0 L890.1 492.6 L892.1 491.1 L894.1 489.6 L896.2 488.2 L898.2 486.7 L900.2 485.2 L902.2 483.7 L904.2 482.3 L906.3 480.8 L908.3 479.3 L910.3 477.8 L912.3 476.3 L914.3 474.8 L916.4 473.3 L918.4 471.8 L920.4 470.3 L922.4 468.8 L924.4 467.3 L926.5 465.8 L928.5 464.2 L930.5 462.7 L932.5 461.2 L934.5 459.7 L936.6 458.2 L938.6 456.6 L940.6 455.1 L942.6 453.6 L944.6 452.0 L946.7 450.5 L948.7 448.9 L950.7 447.4 L952.7 445.8 L954.7 444.3 L956.8 442.7 L958.8 441.1 L960.8 439.6 L962.8 438.0 L964.9 436.4 L966.9 434.9 L968.9 433.3 L970.9 431.7 L972.9 430.1 L975.0 428.5 L977.0 427.0 L979.0 425.4 L981.0 423.8 L983.0 422.2 L985.1 420.6 L987.1 419.0 L989.1 417.3 L991.1 415.7 L993.2 414.1 L995.2 412.5 L997.2 410.9 L999.2 409.2 L1001.2 407.6 L1003.3 406.0 L1005.3 404.3 L1007.3 402.7 L1009.3 401.1 L1011.4 399.4 L1013.4 397.8 L1015.4 396.1 L1017.4 394.5 L1019.4 392.8 L1021.5 391.1 L1023.5 389.5 L1025.5 387.8 L1027.5 386.1 L1029.6 384.4 L1031.6 382.7 L1033.6 381.0 L1035.6 379.3 L1037.6 377.6 L1039.6 375.9 L1041.6 374.2 L1043.6 372.4 L1045.6 370.7 L1047.6 369.0 L1049.6 367.2 L1051.6 365.5 L1053.6 363.7 L1055.6 362.0 L1057.6 360.2 L1059.6 358.4 L1061.7 356.7 L1063.7 354.9 L1065.7 353.1 L1067.7 351.3 L1069.7 349.5 L1071.7 347.7 L1073.7 345.9 L1075.7 344.1 L1077.7 342.3 L1079.7 340.5 L1081.7 338.6 L1083.7 336.8 L1085.7 334.9 L1087.7 333.1 L1089.7 331.2 L1091.7 329.3 L1093.7 327.5 L1095.7 325.6 L1097.8 323.7 L1099.8 321.8 L1101.8 319.8 L1103.8 317.9 L1120.0 298.0 L1121.0 297.1 L1122.2 296.0 L1123.7 294.6 L1125.4 293.1 L1127.2 291.5 L1129.1 289.8 L1131.1 288.0 L1133.0 286.3 L1135.0 284.5 L1136.8 282.9 L1138.5 281.4 L1140.0 280.0 L1141.4 278.8 L1142.6 277.6 L1143.8 276.5 L1144.9 275.4 L1145.9 274.4 L1146.9 273.4 L1148.0 272.4 L1149.0 271.5 L1150.1 270.5 L1151.3 269.5 L1152.6 268.5 L1154.0 267.5 L1155.5 266.5 L1157.1 265.4 L1158.8 264.4 L1160.5 263.3 L1162.3 262.3 L1164.1 261.2 L1166.0 260.2 L1167.8 259.1 L1169.7 258.1 L1171.5 257.1 L1173.3 256.0 L1175.0 255.0 L1176.7 254.0 L1178.3 253.0 L1180.0 252.0 L1181.6 251.0 L1183.2 250.1 L1184.8 249.1 L1186.4 248.1 L1188.0 247.1 L1189.7 246.1 L1191.4 245.1 L1193.2 244.1 L1195.0 243.0 L1196.9 241.9 L1198.8 240.8 L1200.7 239.8 L1202.6 238.7 L1204.6 237.6 L1206.6 236.4 L1208.6 235.3 L1210.7 234.1 L1212.9 232.9 L1215.2 231.6 L1217.6 230.3 L1220.0 229.0 L1222.5 227.6 L1225.2 226.2 L1227.9 224.7 L1230.7 223.2 L1233.6 221.7 L1236.5 220.2 L1239.5 218.6 L1242.5 216.9 L1245.6 215.3 L1248.7 213.5 L1251.8 211.8 L1255.0 210.0 L1258.2 208.1 L1261.5 206.2 L1264.9 204.2 L1268.3 202.1 L1271.8 200.0 L1275.2 197.8 L1278.8 195.7 L1282.3 193.5 L1285.8 191.4 L1289.2 189.4 L1292.6 187.4 L1296.0 185.5 L1299.3 183.7 L1302.6 181.9 L1305.9 180.2 L1309.1 178.6 L1312.3 177.0 L1315.6 175.4 L1318.8 173.8 L1322.0 172.2 L1325.2 170.6 L1328.5 168.9 L1331.7 167.2 L1335.0 165.5 L1338.4 163.7 L1341.8 161.8 L1345.4 159.8 L1349.0 157.8 L1352.6 155.8 L1356.2 153.7 L1359.7 151.7 L1363.1 149.8 L1366.4 147.9 L1369.5 146.1 L1372.4 144.5 L1375.0 143.0 L1377.4 141.7 L1379.5 140.5 L1381.5 139.4 L1383.3 138.5 L1384.9 137.6 L1386.4 136.8 L1387.9 136.0 L1389.3 135.2 L1390.7 134.4 L1392.1 133.5 L1393.5 132.5 L1395.0 131.4 L1396.5 130.2 L1398.0 129.0 L1399.5 127.7 L1400.9 126.4 L1402.3 125.1 L1403.8 123.7 L1405.1 122.3 L1406.5 120.9 L1407.9 119.5 L1409.3 118.0 L1410.6 116.5 L1412.0 115.0 L1413.4 113.5 L1414.7 111.9 L1416.0 110.2 L1417.3 108.6 L1418.5 106.9 L1419.8 105.2 L1421.1 103.4 L1422.4 101.7 L1423.7 100.0 L1425.1 98.3 L1426.5 96.6 L1428.0 95.0 L1429.6 93.4 L1431.2 91.8 L1432.9 90.2 L1434.6 88.6 L1436.4 87.0 L1438.2 85.4 L1440.0 83.8 L1441.7 82.2 L1443.4 80.7 L1445.0 79.1 L1446.6 77.6 L1448.0 76.0 L1449.3 74.5 L1450.6 72.9 L1451.7 71.4 L1452.8 69.9 L1453.9 68.3 L1454.9 66.8 L1455.9 65.3 L1456.8 63.8 L1457.8 62.3 L1458.7 60.8 L1459.7 59.2 L1460.6 57.7 L1461.5 56.2 L1462.4 54.6 L1463.3 53.1 L1464.2 51.5 L1465.0 50.0 L1465.8 48.4 L1466.7 46.9 L1467.5 45.3 L1468.3 43.7 L1469.2 42.2 L1470.1 40.6 L1471.0 39.0 L1472.0 37.3 L1473.0 35.6 L1474.2 33.7 L1475.3 31.9 L1476.5 30.0 L1477.7 28.1 L1478.8 26.3 L1479.8 24.7 L1480.8 23.1 L1481.7 21.7 L1482.4 20.5 L1483.0 19.6" stroke="#9b45f5" stroke-width="5" stroke-dasharray="19 11 4 11" stroke-dashoffset="6" stroke-linecap="butt"/>
<path d="M525.4 639.1 L527.4 638.7 L529.4 638.2 L531.4 637.8 L533.4 637.5 L535.4 637.1 L537.4 636.8 L539.4 636.4 L541.3 636.1 L543.3 635.8 L545.3 635.6 L547.3 635.3 L549.3 635.1 L551.3 634.8 L553.3 634.6 L555.2 634.4 L557.2 634.2 L559.2 634.0 L561.2 633.8 L563.2 633.7 L565.2 633.5 L567.2 633.4 L569.2 633.2 L571.2 633.1 L573.2 632.9 L575.2 632.8 L577.2 632.7 L579.2 632.6 L581.2 632.5 L583.1 632.4 L585.1 632.3 L587.1 632.2 L589.1 632.1 L591.1 632.0 L593.1 631.9 L595.1 631.8 L597.1 631.7 L599.1 631.6 L601.2 631.5 L603.2 631.4 L605.2 631.3 L607.2 631.2 L609.2 631.1 L611.2 631.0 L613.2 630.9 L615.2 630.7 L617.2 630.6 L619.2 630.5 L621.2 630.3 L623.3 630.1 L625.3 630.0 L627.3 629.8 L629.3 629.6 L631.3 629.4 L633.3 629.2 L635.4 629.0 L637.4 628.7 L639.4 628.5 L641.4 628.2 L643.4 627.9 L645.5 627.6 L647.5 627.3 L649.5 627.0 L651.6 626.7 L653.6 626.3 L655.6 625.9 L657.6 625.5 L659.7 625.1 L661.7 624.6 L663.7 624.2 L665.8 623.7 L667.8 623.2 L669.8 622.7 L671.9 622.1 L673.9 621.5 L675.9 621.0 L678.0 620.4 L680.0 619.7 L682.0 619.1 L684.1 618.5 L686.1 617.8 L688.1 617.1 L690.2 616.4 L692.2 615.7 L694.2 614.9 L696.2 614.2 L698.3 613.4 L700.3 612.6 L702.3 611.8 L704.4 611.0 L706.4 610.2 L708.4 609.3 L710.4 608.5 L712.5 607.6 L714.5 606.7 L716.5 605.8 L718.5 604.9 L720.6 604.0 L722.6 603.1 L724.6 602.1 L726.6 601.2 L728.7 600.2 L730.7 599.2 L732.7 598.2 L734.7 597.2 L736.8 596.2 L738.8 595.2 L740.8 594.1 L742.8 593.1 L744.9 592.0 L746.9 591.0 L748.9 589.9 L750.9 588.8 L753.0 587.7 L755.0 586.6 L757.0 585.5 L759.0 584.4 L761.0 583.2 L763.1 582.1 L765.1 580.9 L767.1 579.7 L769.1 578.6 L771.2 577.4 L773.2 576.2 L775.2 575.0 L777.2 573.8 L779.2 572.6 L781.3 571.3 L783.3 570.1 L785.3 568.9 L787.3 567.6 L789.3 566.4 L791.4 565.1 L793.4 563.8 L795.4 562.5 L797.4 561.3 L799.4 560.0 L801.5 558.7 L803.5 557.3 L805.5 556.0 L807.5 554.6 L809.4 553.3 L811.4 551.9 L813.4 550.5 L815.4 549.1 L817.4 547.7 L819.4 546.3 L821.4 544.9 L823.4 543.5 L825.4 542.1 L827.4 540.7 L829.3 539.3 L831.3 537.9 L833.3 536.4 L835.3 535.0 L837.3 533.6 L839.3 532.1 L841.3 530.7 L843.3 529.2 L845.2 527.8 L847.2 526.3 L849.2 524.9 L851.2 523.4 L853.2 522.0 L855.2 520.5 L857.2 519.0 L859.1 517.5 L861.1 516.1 L863.1 514.6 L865.1 513.1 L867.1 511.6 L869.1 510.1 L871.0 508.7 L873.0 507.2 L875.0 505.7 L877.0 504.2 L879.0 502.7 L881.0 501.2 L883.0 499.7 L884.9 498.2 L886.9 496.7 L888.9 495.2 L890.9 493.6 L892.9 492.1 L894.9 490.6 L896.8 489.1 L898.8 487.6 L900.8 486.0 L902.8 484.5 L904.8 483.0 L906.7 481.4 L908.7 479.9 L910.7 478.3 L912.7 476.8 L914.7 475.2 L916.6 473.7 L918.6 472.1 L920.6 470.6 L922.6 469.0 L924.6 467.4 L926.5 465.9 L928.5 464.3 L930.5 462.7 L932.5 461.1 L934.4 459.6 L936.4 458.0 L938.4 456.4 L940.4 454.8 L942.4 453.2 L944.3 451.6 L946.3 450.0 L948.3 448.4 L950.3 446.8 L952.2 445.2 L954.2 443.6 L956.2 442.0 L958.2 440.4 L960.2 438.8 L962.1 437.1 L964.1 435.5 L966.1 433.9 L968.1 432.3 L970.0 430.6 L972.0 429.0 L974.0 427.4 L976.0 425.7 L978.0 424.1 L979.9 422.4 L981.9 420.8 L983.9 419.1 L985.9 417.4 L987.8 415.8 L989.8 414.1 L991.8 412.5 L993.8 410.8 L995.7 409.1 L997.7 407.4 L999.7 405.7 L1001.7 404.1 L1003.7 402.4 L1005.6 400.7 L1007.6 399.0 L1009.6 397.3 L1011.6 395.6 L1013.5 393.9 L1015.5 392.2 L1017.5 390.5 L1019.5 388.7 L1021.4 387.0 L1023.4 385.3 L1025.4 383.6 L1027.4 381.8 L1029.3 380.1 L1031.3 378.4 L1033.3 376.7 L1035.3 375.0 L1037.3 373.2 L1039.3 371.5 L1041.3 369.8 L1043.3 368.1 L1045.3 366.3 L1047.3 364.6 L1049.3 362.8 L1051.3 361.1 L1053.3 359.3 L1055.3 357.6 L1057.3 355.8 L1059.3 354.1 L1061.3 352.3 L1063.3 350.5 L1065.3 348.7 L1067.3 346.9 L1069.3 345.1 L1071.3 343.3 L1073.3 341.5 L1075.3 339.7 L1077.3 337.9 L1079.3 336.0 L1081.3 334.2 L1083.3 332.4 L1085.3 330.5 L1087.3 328.6 L1089.3 326.8 L1091.3 324.9 L1093.3 323.0 L1095.3 321.1 L1097.3 319.2 L1099.3 317.3 L1103.0 310.5 L1105.0 309.3 L1107.6 307.7 L1110.6 305.8 L1114.0 303.7 L1117.7 301.4 L1121.6 299.0 L1125.5 296.6 L1129.6 294.3 L1133.5 292.0 L1137.3 290.0 L1140.8 288.2 L1144.0 286.7 L1147.0 285.5 L1149.9 284.5 L1152.7 283.6 L1155.4 282.9 L1158.1 282.3 L1160.8 281.8 L1163.3 281.4 L1165.8 281.0 L1168.2 280.6 L1170.5 280.3 L1172.8 279.9 L1175.0 279.5 L1177.1 279.1 L1179.2 278.8 L1181.2 278.5 L1183.1 278.3 L1185.0 278.1 L1186.8 277.9 L1188.5 277.7 L1190.2 277.5 L1191.8 277.3 L1193.3 277.1 L1194.7 276.8 L1196.0 276.5 L1197.2 276.2 L1198.3 275.8 L1199.4 275.5 L1200.3 275.1 L1201.1 274.7 L1201.9 274.3 L1202.7 273.9 L1203.4 273.5 L1204.0 273.0 L1204.7 272.6 L1205.3 272.0 L1206.0 271.5 L1206.6 270.9 L1207.2 270.3 L1207.8 269.7 L1208.3 269.0 L1208.8 268.3 L1209.3 267.6 L1209.8 266.8 L1210.2 266.1 L1210.7 265.3 L1211.1 264.5 L1211.5 263.8 L1212.0 263.0 L1212.4 262.2 L1212.9 261.4 L1213.3 260.6 L1213.7 259.8 L1214.1 258.9 L1214.5 258.1 L1214.9 257.2 L1215.3 256.4 L1215.7 255.5 L1216.1 254.7 L1216.6 253.8 L1217.0 253.0 L1217.5 252.2 L1217.9 251.3 L1218.4 250.5 L1218.9 249.6 L1219.4 248.8 L1219.9 247.9 L1220.4 247.1 L1220.9 246.3 L1221.4 245.4 L1221.9 244.6 L1222.5 243.8 L1223.0 243.0 L1223.5 242.2 L1224.1 241.4 L1224.6 240.6 L1225.1 239.8 L1225.7 239.0 L1226.2 238.2 L1226.8 237.5 L1227.4 236.7 L1228.0 236.0 L1228.6 235.3 L1229.3 234.6 L1230.0 234.0 L1230.8 233.4 L1231.6 232.8 L1232.5 232.1 L1233.5 231.6 L1234.5 231.0 L1235.4 230.4 L1236.4 229.9 L1237.3 229.4 L1238.1 229.0 L1238.9 228.6 L1239.5 228.3 L1240.0 228.0" stroke="#6e7284" stroke-width="4.6" stroke-dasharray="11 12" stroke-linecap="butt"/>
<line x1="532.0" y1="634.4" x2="538.0" y2="633.6" stroke="#fa1212" stroke-width="10"/>
<line x1="579.0" y1="631.3" x2="585.0" y2="630.7" stroke="#fa1212" stroke-width="10"/>
<line x1="627.0" y1="627.6" x2="633.0" y2="627.4" stroke="#fa1212" stroke-width="10"/>
<line x1="675.1" y1="622.4" x2="680.9" y2="620.6" stroke="#fa1212" stroke-width="10"/>
<line x1="722.3" y1="603.3" x2="727.7" y2="600.7" stroke="#fa1212" stroke-width="10"/>
<line x1="774.2" y1="576.5" x2="779.4" y2="573.5" stroke="#fa1212" stroke-width="10"/>
<line x1="824.3" y1="547.1" x2="829.3" y2="543.9" stroke="#fa1212" stroke-width="10"/>
<line x1="874.5" y1="513.9" x2="879.5" y2="510.5" stroke="#fa1212" stroke-width="10"/>
<line x1="924.4" y1="477.1" x2="929.2" y2="473.5" stroke="#fa1212" stroke-width="10"/>
<line x1="975.3" y1="437.2" x2="979.9" y2="433.4" stroke="#fa1212" stroke-width="10"/>
<line x1="1024.8" y1="395.0" x2="1029.2" y2="391.0" stroke="#fa1212" stroke-width="10"/>
<line x1="1073.3" y1="349.1" x2="1077.7" y2="344.9" stroke="#fa1212" stroke-width="10"/>
<line x1="1121.8" y1="303.0" x2="1126.2" y2="299.0" stroke="#fa1212" stroke-width="10"/>
<line x1="1172.2" y1="259.8" x2="1177.0" y2="256.2" stroke="#fa1212" stroke-width="10"/>
<line x1="1222.2" y1="223.8" x2="1227.0" y2="220.2" stroke="#fa1212" stroke-width="10"/>
<line x1="1271.5" y1="186.7" x2="1276.5" y2="183.3" stroke="#fa1212" stroke-width="10"/>
<line x1="1323.7" y1="152.4" x2="1328.3" y2="148.6" stroke="#fa1212" stroke-width="10"/>
<line x1="1365.7" y1="107.8" x2="1369.5" y2="103.2" stroke="#fa1212" stroke-width="10"/>
<line x1="1401.9" y1="60.7" x2="1405.7" y2="56.1" stroke="#fa1212" stroke-width="10"/>
</g>
<path d="M524.6 17.9 H1490.5 V685.6 H524.6 Z" stroke="#0a0a0a" fill="none" stroke-width="4.8" stroke-linejoin="miter"/>
<g font-family="Liberation Serif">
<text x="495.11" y="699.00" font-size="35" fill="#000" textLength="17.38" lengthAdjust="spacingAndGlyphs">0</text>
<text x="459.37" y="614.00" font-size="35" fill="#000" textLength="53.36" lengthAdjust="spacingAndGlyphs">500</text>
<text x="436.54" y="531.00" font-size="35" fill="#000" textLength="75.08" lengthAdjust="spacingAndGlyphs">1 000</text>
<text x="436.54" y="446.80" font-size="35" fill="#000" textLength="75.08" lengthAdjust="spacingAndGlyphs">1 500</text>
<text x="435.33" y="363.70" font-size="35" fill="#000" textLength="76.40" lengthAdjust="spacingAndGlyphs">2 000</text>
<text x="435.33" y="279.80" font-size="35" fill="#000" textLength="76.40" lengthAdjust="spacingAndGlyphs">2 500</text>
<text x="434.95" y="196.40" font-size="35" fill="#000" textLength="76.88" lengthAdjust="spacingAndGlyphs">3 000</text>
<text x="434.95" y="112.60" font-size="35" fill="#000" textLength="76.88" lengthAdjust="spacingAndGlyphs">3 500</text>
<text x="435.63" y="28.00" font-size="35" fill="#000" textLength="76.30" lengthAdjust="spacingAndGlyphs">4 000</text>
<text x="630.14" y="723.30" font-size="35" fill="#000" textLength="32.18" lengthAdjust="spacingAndGlyphs">10</text>
<text x="748.50" y="723.30" font-size="35" fill="#000" textLength="34.89" lengthAdjust="spacingAndGlyphs">20</text>
<text x="867.98" y="723.30" font-size="35" fill="#000" textLength="35.44" lengthAdjust="spacingAndGlyphs">30</text>
<text x="988.50" y="723.30" font-size="35" fill="#000" textLength="34.89" lengthAdjust="spacingAndGlyphs">40</text>
<text x="1108.96" y="723.30" font-size="35" fill="#000" textLength="33.91" lengthAdjust="spacingAndGlyphs">50</text>
<text x="1229.93" y="723.30" font-size="35" fill="#000" textLength="33.83" lengthAdjust="spacingAndGlyphs">60</text>
<text x="1350.82" y="723.30" font-size="35" fill="#000" textLength="32.92" lengthAdjust="spacingAndGlyphs">70</text>
<text x="1472.09" y="723.30" font-size="35" fill="#000" textLength="31.82" lengthAdjust="spacingAndGlyphs">80</text>
<text x="966.25" y="771.10" font-size="34.5" fill="#000" textLength="84.29" lengthAdjust="spacingAndGlyphs"><tspan font-style="italic">p</tspan>/GPa</text>
<text x="555.73" y="70.00" font-size="34.5" fill="#000" textLength="533.91" lengthAdjust="spacingAndGlyphs">Principle Hugoniot calculated by AEOS</text>
<text x="656.60" y="110.90" font-size="34.5" fill="#000" textLength="201.25" lengthAdjust="spacingAndGlyphs">AEOS model 1</text>
<text x="656.60" y="153.80" font-size="34.5" fill="#000" textLength="203.16" lengthAdjust="spacingAndGlyphs">AEOS model 2</text>
<text x="656.60" y="195.20" font-size="34.5" fill="#000" textLength="201.19" lengthAdjust="spacingAndGlyphs">AEOS model 3</text>
<text x="550.67" y="235.60" font-size="34.5" fill="#000" textLength="564.68" lengthAdjust="spacingAndGlyphs">Some results calculated by AEOS model 3</text>
<text x="592.88" y="278.10" font-size="34.5" fill="#000" textLength="415.01" lengthAdjust="spacingAndGlyphs">Equilibrium <tspan font-style="italic">p</tspan>-<tspan font-style="italic">T</tspan> phase boundary</text>
<text x="592.88" y="317.60" font-size="34.5" fill="#000" textLength="288.25" lengthAdjust="spacingAndGlyphs">Isentropic release after</text>
<text x="594.04" y="356.80" font-size="34.5" fill="#000" textLength="230.05" lengthAdjust="spacingAndGlyphs">impact to 17 GPa</text>
<text x="1169.63" y="382.00" font-size="34.5" fill="#000" textLength="222.50" lengthAdjust="spacingAndGlyphs">Phase boundary:</text>
<text x="1170.53" y="420.20" font-size="34.5" fill="#000" textLength="120.43" lengthAdjust="spacingAndGlyphs">Ref. [25]</text>
<text x="1170.54" y="461.50" font-size="34.5" fill="#000" textLength="169.67" lengthAdjust="spacingAndGlyphs">Ref. [26, 29]</text>
<text x="1169.63" y="516.20" font-size="34.5" fill="#000" textLength="264.89" lengthAdjust="spacingAndGlyphs">Principle Hugoniot:</text>
<text x="1169.63" y="562.50" font-size="34.5" fill="#000" textLength="120.84" lengthAdjust="spacingAndGlyphs">Ref. [25]</text>
<text x="1169.63" y="603.30" font-size="34.5" fill="#000" textLength="120.84" lengthAdjust="spacingAndGlyphs">Ref. [26]</text>
<text x="1169.63" y="643.60" font-size="34.5" fill="#000" textLength="120.84" lengthAdjust="spacingAndGlyphs">Ref. [27]</text>
<text x="568.63" y="450.90" font-size="34.5" fill="#0a2ad8" textLength="88.97" lengthAdjust="spacingAndGlyphs">Liquid</text>
<text x="805.90" y="651.40" font-size="34.5" fill="#0a2ad8" textLength="38.64" lengthAdjust="spacingAndGlyphs">bct</text>
<text x="592.17" y="668.50" font-size="34.5" fill="#0a2ad8" textLength="18.43" lengthAdjust="spacingAndGlyphs"><tspan font-style="italic">β</tspan></text>
<text transform="translate(414.3 374.9) rotate(-90)" font-size="34.5" fill="#000" textLength="52.3" lengthAdjust="spacingAndGlyphs" x="-1.9"><tspan font-style="italic">T</tspan>/K</text>
</g>
<g fill="none" stroke-linecap="round">
<line x1="558.6" y1="101.9" x2="579.5" y2="101.9" stroke="#0626cf" stroke-width="6.6"/>
<circle cx="595.8" cy="101.9" r="3" fill="#0626cf"/>
<line x1="613" y1="101.9" x2="634" y2="101.9" stroke="#0626cf" stroke-width="6.6"/>
<line x1="558" y1="144.3" x2="565.7" y2="144.3" stroke="#fa1212" stroke-width="8"/>
<line x1="608.8" y1="144.3" x2="615.2" y2="144.3" stroke="#fa1212" stroke-width="8"/>
<line x1="558" y1="185" x2="638" y2="185" stroke="#fa1212" stroke-width="8"/>
<line x1="552" y1="265.5" x2="584.6" y2="265.5" stroke="#0a0a0a" stroke-width="4" stroke-linecap="butt"/>
<circle cx="567.3" cy="306.4" r="7.8" stroke="#7a0a20" stroke-width="1.3"/>
<line x1="1066.3" y1="408" x2="1149" y2="408" stroke="#6e7284" stroke-width="5" stroke-linecap="butt"/>
<ellipse cx="1109" cy="449.7" rx="11.8" ry="10.4" fill="url(#bg)"/>
<path d="M1108.6 540.7 L1111.8 549.2 L1120.8 549.5 L1113.7 555.2 L1116.1 563.9 L1108.6 558.9 L1101.1 563.9 L1103.5 555.2 L1096.4 549.5 L1105.4 549.2Z" fill="#fff" stroke="#ff1a3a" stroke-width="1.1"/>
<line x1="1069.2" y1="592.5" x2="1152" y2="592.5" stroke="#6e7284" stroke-width="4.6" stroke-dasharray="12.5 10.8" stroke-linecap="butt"/>
<line x1="1069.2" y1="632.6" x2="1142" y2="632.6" stroke="#9b45f5" stroke-width="4.6" stroke-dasharray="19.6 8.1 4.6 8" stroke-linecap="butt"/>
</g>
</svg></body></html>
